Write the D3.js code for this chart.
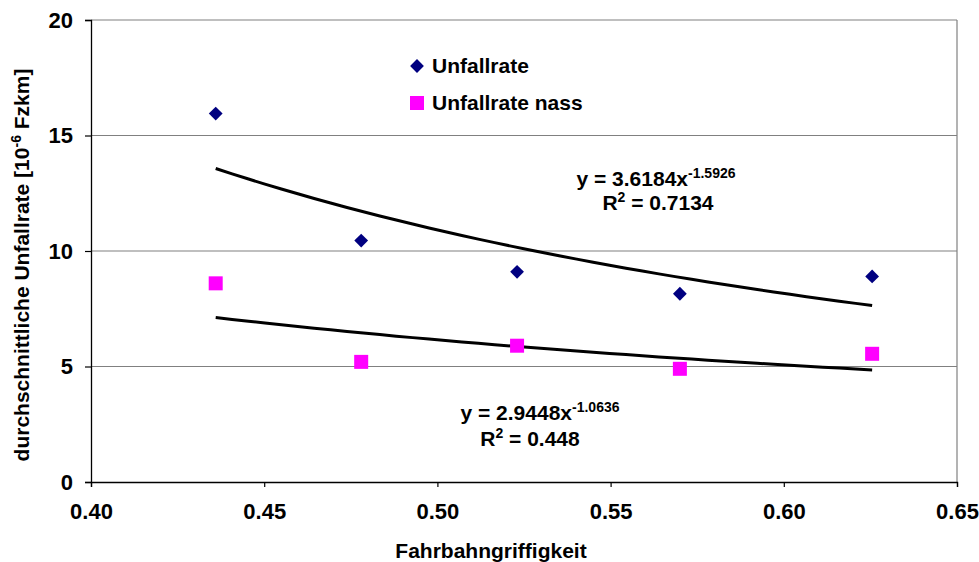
<!DOCTYPE html>
<html>
<head>
<meta charset="utf-8">
<script src="https://cdn.jsdelivr.net/npm/d3@7"></script>
<style>
  body { margin: 0; background: #fff; }
  text { font-family: "Liberation Sans", Arial, sans-serif; font-weight: bold; fill: #000; }
</style>
</head>
<body>
<div id="chart"></div>
<script>
// data
var griffigkeit = [0.436, 0.478, 0.523, 0.570, 0.6255];
var unfallrate = [15.95, 10.45, 9.1, 8.15, 8.9];
var unfallrateNass = [8.6, 5.2, 5.9, 4.9, 5.55];
var xTicks = [0.40, 0.45, 0.50, 0.55, 0.60, 0.65];
var yTicks = [0, 5, 10, 15, 20];

// power trendlines y = a * x^b as printed on the chart
var trendA = [3.6184, 2.9448];
var trendB = [-1.5926, -1.0636];
var trendR2 = ["0.7134", "0.448"];

var width = 979,
    height = 562;

var svg = d3.select("#chart")
  .append("svg")
    .attr("width", width)
    .attr("height", height);

var x = d3.scaleLinear().domain([0.40, 0.65]).range([91, 957]);
var y = d3.scaleLinear().domain([0, 20]).range([482, 20]);

// gridlines
svg.selectAll(".grid")
  .data(yTicks.filter(function(d) { return d > 0; }))
  .enter().append("line")
    .attr("x1", x(0.40)).attr("x2", x(0.65))
    .attr("y1", function(d) { return y(d); })
    .attr("y2", function(d) { return y(d); })
    .attr("stroke", "#808080")
    .attr("stroke-width", 1.2);

// right border
svg.append("line")
  .attr("x1", x(0.65)).attr("x2", x(0.65))
  .attr("y1", y(20)).attr("y2", y(0))
  .attr("stroke", "#808080")
  .attr("stroke-width", 1.2);

// axes
var xAxis = svg.append("g")
  .attr("transform", "translate(0," + y(0) + ")")
  .call(d3.axisBottom(x).tickValues(xTicks).tickFormat(d3.format(".2f")).tickSize(5).tickPadding(16));
var yAxis = svg.append("g")
  .attr("transform", "translate(" + x(0.40) + ",0)")
  .call(d3.axisLeft(y).tickValues(yTicks).tickSize(6).tickPadding(12));

[xAxis, yAxis].forEach(function(g) {
  g.attr("font-size", 22).attr("font-family", "'Liberation Sans', Arial, sans-serif");
  g.select(".domain").attr("stroke", "#000").attr("stroke-width", 1.3);
  g.selectAll(".tick line").attr("stroke", "#000").attr("stroke-width", 1.2);
  g.selectAll(".tick text")
    .style("font-size", "22px")
    .style("font-weight", "bold")
    .attr("fill", "#000");
});

// trendlines
var xMin = d3.min(griffigkeit), xMax = d3.max(griffigkeit);
var line = d3.line()
  .x(function(d) { return x(d[0]); })
  .y(function(d) { return y(d[1]); });

trendA.forEach(function(a, i) {
  var pts = d3.range(0, 41).map(function(k) {
    var xv = xMin + (xMax - xMin) * k / 40;
    return [xv, a * Math.pow(xv, trendB[i])];
  });
  svg.append("path")
    .attr("d", line(pts))
    .attr("fill", "none")
    .attr("stroke", "#000")
    .attr("stroke-width", 3);
});

// points
var diamond = d3.symbol().type(d3.symbolSquare).size(95);
svg.selectAll(".diamond")
  .data(griffigkeit)
  .enter().append("path")
    .attr("d", diamond)
    .attr("transform", function(d, i) {
      return "translate(" + x(d) + "," + y(unfallrate[i]) + ") rotate(45)";
    })
    .attr("fill", "#000080");

svg.selectAll(".square")
  .data(griffigkeit)
  .enter().append("rect")
    .attr("x", function(d) { return x(d) - 7; })
    .attr("y", function(d, i) { return y(unfallrateNass[i]) - 7; })
    .attr("width", 14)
    .attr("height", 14)
    .attr("fill", "#FF00FF");

// legend
svg.append("path")
  .attr("d", diamond)
  .attr("transform", "translate(417,66) rotate(45)")
  .attr("fill", "#000080");
svg.append("text").attr("x", 432).attr("y", 73).style("font-size", "21px").text("Unfallrate");
svg.append("rect").attr("x", 410).attr("y", 96).attr("width", 14).attr("height", 14).attr("fill", "#FF00FF");
svg.append("text").attr("x", 432).attr("y", 110).style("font-size", "21px").text("Unfallrate nass");

// equations
var eqPos = [[656, 186, 658, 210], [540, 420, 530, 446]];
trendA.forEach(function(a, i) {
  var t = svg.append("text")
    .attr("x", eqPos[i][0]).attr("y", eqPos[i][1])
    .attr("text-anchor", "middle")
    .style("font-size", "21px");
  t.append("tspan").text("y = " + a.toFixed(4) + "x");
  t.append("tspan").attr("dy", -8).style("font-size", "14px").text(trendB[i].toFixed(4));

  var r = svg.append("text")
    .attr("x", eqPos[i][2]).attr("y", eqPos[i][3])
    .attr("text-anchor", "middle")
    .style("font-size", "21px");
  r.append("tspan").text("R");
  r.append("tspan").attr("dy", -8).style("font-size", "14px").text("2");
  r.append("tspan").attr("dy", 8).text(" = " + trendR2[i]);
});

// axis titles
svg.append("text")
  .attr("x", 491).attr("y", 558)
  .attr("text-anchor", "middle")
  .style("font-size", "21px")
  .text("Fahrbahngriffigkeit");

var yl = svg.append("text")
  .attr("transform", "translate(29,265) rotate(-90)")
  .attr("text-anchor", "middle")
  .style("font-size", "21px");
yl.append("tspan").text("durchschnittliche Unfallrate  [10");
yl.append("tspan").attr("dy", -8).style("font-size", "14px").text("-6");
yl.append("tspan").attr("dy", 8).text(" Fzkm]");
</script>
</body>
</html>
